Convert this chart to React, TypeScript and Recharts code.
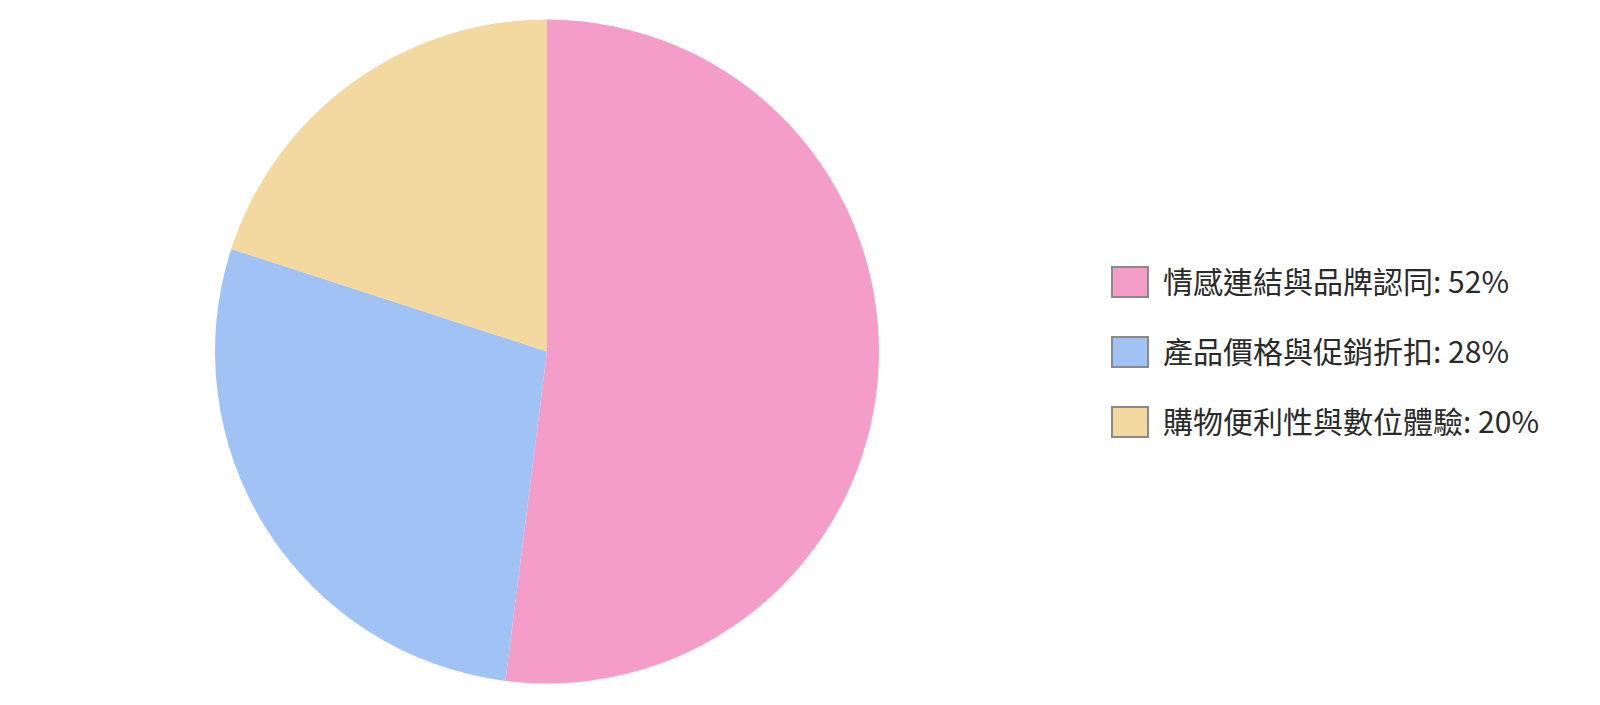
import { Pie, PieChart, Cell } from "recharts";

const categories = ["情感連結與品牌認同", "產品價格與促銷折扣", "購物便利性與數位體驗"];
const shares = [52, 28, 20];
const colors = ["#f39dc8", "#a0c2f5", "#f3d9a0"];

const data = categories.map((name, i) => ({ name, value: shares[i] }));

function ChartLegend() {
  return (
    <div style={{ position: "absolute", left: 1111, top: 247 }}>
      {data.map((d, i) => (
        <div key={d.name} style={{ display: "flex", alignItems: "center", height: 70 }}>
          <div
            style={{
              width: 38,
              height: 32,
              boxSizing: "border-box",
              border: "2px solid #8a8a8a",
              background: colors[i],
              marginRight: 14,
            }}
          />
          <span style={{ fontSize: 30, color: "#2a2a2a", lineHeight: 1, whiteSpace: "nowrap", marginTop: -4 }}>
            {d.name}: {d.value}%
          </span>
        </div>
      ))}
    </div>
  );
}

export default function App() {
  return (
    <div
      style={{
        position: "absolute",
        left: 0,
        top: 0,
        width: 1600,
        height: 705,
        background: "#fff",
        fontFamily: "'Noto Sans CJK TC', 'Noto Sans', sans-serif",
      }}
    >
      <PieChart width={1600} height={705} margin={{ top: 0, right: 0, bottom: 0, left: 0 }}>
        <Pie
          data={data}
          dataKey="value"
          nameKey="name"
          cx={547}
          cy={351.5}
          outerRadius={332}
          startAngle={90}
          endAngle={-270}
          stroke="none"
          isAnimationActive={false}
        >
          {data.map((d, i) => (
            <Cell key={d.name} fill={colors[i]} />
          ))}
        </Pie>
      </PieChart>
      <ChartLegend />
    </div>
  );
}
